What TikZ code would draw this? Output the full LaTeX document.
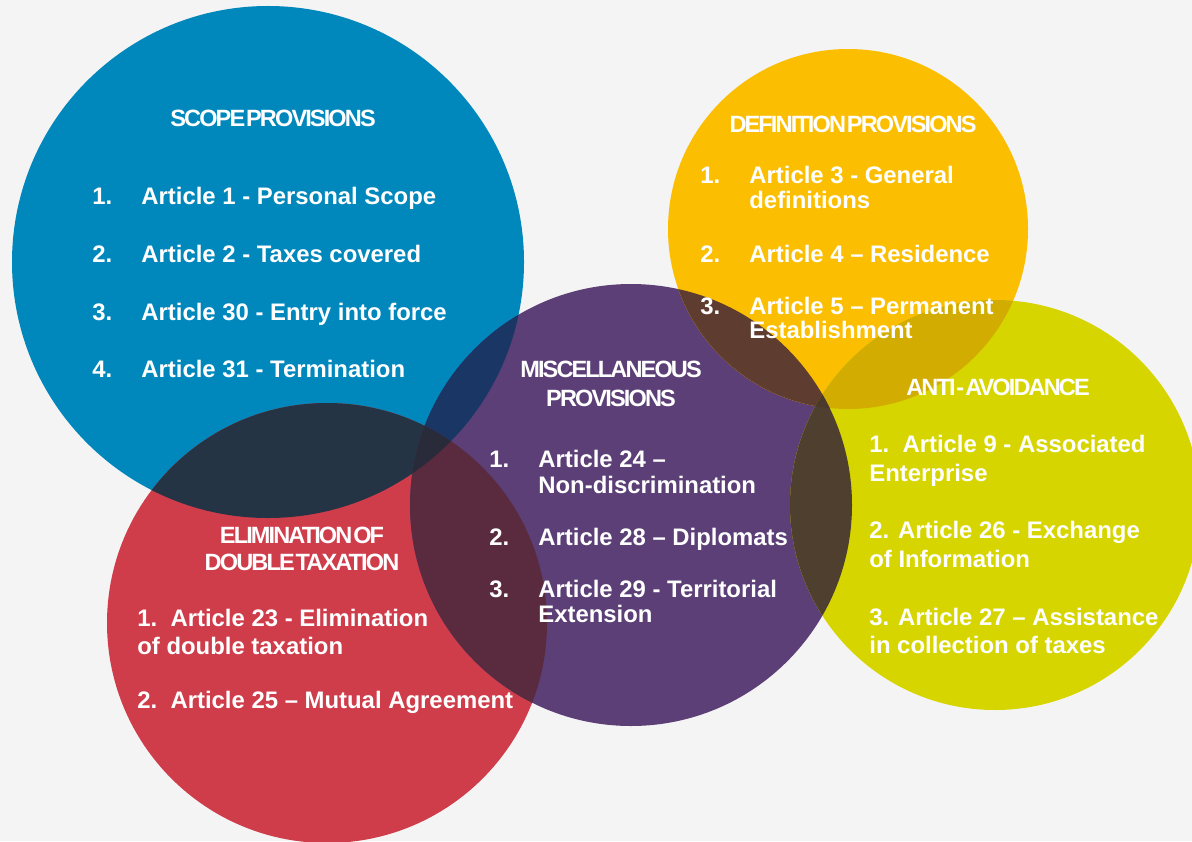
\documentclass[tikz,border=0pt]{standalone}
\usepackage{fontspec}
\setmainfont{Liberation Sans}
\newfontfamily\headfont{Liberation Sans}[LetterSpace=-8,WordSpace=0.2]
\usepackage{tikz}

\definecolor{bgcol}{HTML}{F4F4F4}
\definecolor{scopecol}{HTML}{0088BD}
\definecolor{elimcol}{HTML}{CF3C4A}
\definecolor{misccol}{HTML}{5B3F76}
\definecolor{defcol}{HTML}{FBBE00}
\definecolor{anticol}{HTML}{D7D500}
% colours where two or three circles overlap
\definecolor{scopeelim}{HTML}{243444}
\definecolor{scopemisc}{HTML}{1A3665}
\definecolor{elimmisc}{HTML}{5A2B3F}
\definecolor{scopeelimmisc}{HTML}{292A3A}
\definecolor{defmisc}{HTML}{5E3C30}
\definecolor{defanti}{HTML}{D2AC00}
\definecolor{miscanti}{HTML}{4F3F2E}
\definecolor{defmiscanti}{HTML}{4B3A2C}

\tikzset{
    article/.style={text=white, anchor=base west, inner sep=0pt,
        font=\fontsize{13.6}{16}\selectfont\bfseries},
    heading/.style={text=white, anchor=base, inner sep=0pt,
        font=\headfont\fontsize{13.4}{16}\selectfont\bfseries}
}

\begin{document}
\begin{tikzpicture}[x=0.02cm, y=-0.02cm]
    \useasboundingbox (0,0) rectangle (1192,841);
    \clip (0,0) rectangle (1192,841);
    \fill[bgcol] (0,0) rectangle (1192,841);

    % circle centres
    \coordinate (scope) at (268,262);
    \coordinate (elim) at (327,623);
    \coordinate (misc) at (631,505);
    \coordinate (def) at (848,229);
    \coordinate (anti) at (995,505);

    \fill[scopecol] (scope) circle (256);
    \fill[elimcol] (elim) circle (220);
    \fill[misccol] (misc) circle (221);
    \fill[defcol] (def) circle (180);
    \fill[anticol] (anti) circle (205);

    % pairwise overlaps
    \begin{scope}
        \clip (scope) circle (256);
        \fill[scopeelim] (elim) circle (220);
        \fill[scopemisc] (misc) circle (221);
    \end{scope}
    \begin{scope}
        \clip (elim) circle (220);
        \fill[elimmisc] (misc) circle (221);
    \end{scope}
    \begin{scope}
        \clip (def) circle (180);
        \fill[defmisc] (misc) circle (221);
        \fill[defanti] (anti) circle (205);
    \end{scope}
    \begin{scope}
        \clip (misc) circle (221);
        \fill[miscanti] (anti) circle (205);
    \end{scope}
    % triple overlaps
    \begin{scope}
        \clip (scope) circle (256);
        \clip (elim) circle (220);
        \fill[scopeelimmisc] (misc) circle (221);
    \end{scope}
    \begin{scope}
        \clip (def) circle (180);
        \clip (misc) circle (221);
        \fill[defmiscanti] (anti) circle (205);
    \end{scope}

    % scope provisions
    \node[heading] (scopeh) at (273,127) {SCOPE PROVISIONS};
    \node[article] (s1n) at (92,204) {1.};
    \node[article] (s1) at (141,204) {Article 1 - Personal Scope};
    \node[article] (s2n) at (92,262) {2.};
    \node[article] (s2) at (141,262) {Article 2 - Taxes covered};
    \node[article] (s3n) at (92,320) {3.};
    \node[article] (s3) at (141,320) {Article 30 - Entry into force};
    \node[article] (s4n) at (92,377) {4.};
    \node[article] (s4) at (141,377) {Article 31 - Termination};

    % definition provisions
    \node[heading] (defh) at (853,133) {DEFINITION PROVISIONS};
    \node[article] (d1n) at (700,184) {1.};
    \node[article] (d1) at (749,184) {Article 3 - General};
    \node[article] (d1b) at (749,209) {definitions};
    \node[article] (d2n) at (700,262) {2.};
    \node[article] (d2) at (749,262) {Article 4 -- Residence};
    \node[article] (d3n) at (700,314) {3.};
    \node[article] (d3) at (749,314) {Article 5 -- Permanent};
    \node[article] (d3b) at (749,338) {Establishment};

    % miscellaneous provisions
    \node[heading] (misch) at (611,377) {MISCELLANEOUS};
    \node[heading] (mischb) at (611,406) {PROVISIONS};
    \node[article] (m1n) at (489,467) {1.};
    \node[article] (m1) at (538,467) {Article 24 --};
    \node[article] (m1b) at (538,493) {Non-discrimination};
    \node[article] (m2n) at (489,545) {2.};
    \node[article] (m2) at (538,545) {Article 28 -- Diplomats};
    \node[article] (m3n) at (489,597) {3.};
    \node[article] (m3) at (538,597) {Article 29 - Territorial};
    \node[article] (m3b) at (538,622) {Extension};

    % elimination of double taxation
    \node[heading] (elimh) at (302,543) {ELIMINATION OF};
    \node[heading] (elimhb) at (302,570) {DOUBLE TAXATION};
    \node[article] (e1) at (137,626) {1.~~Article 23 - Elimination};
    \node[article] (e1b) at (137,654) {of double taxation};
    \node[article] (e2) at (137,708) {2.~~Article 25 -- Mutual Agreement};

    % anti-avoidance
    \node[heading] (antih) at (998,395) {ANTI - AVOIDANCE};
    \node[article] (a1) at (869,452) {1.~~Article 9 - Associated};
    \node[article] (a1b) at (869,481) {Enterprise};
    \node[article] (a2) at (869,538) {2. Article 26 - Exchange};
    \node[article] (a2b) at (869,567) {of Information};
    \node[article] (a3) at (869,625) {3. Article 27 -- Assistance};
    \node[article] (a3b) at (869,653) {in collection of taxes};
\end{tikzpicture}
\end{document}
